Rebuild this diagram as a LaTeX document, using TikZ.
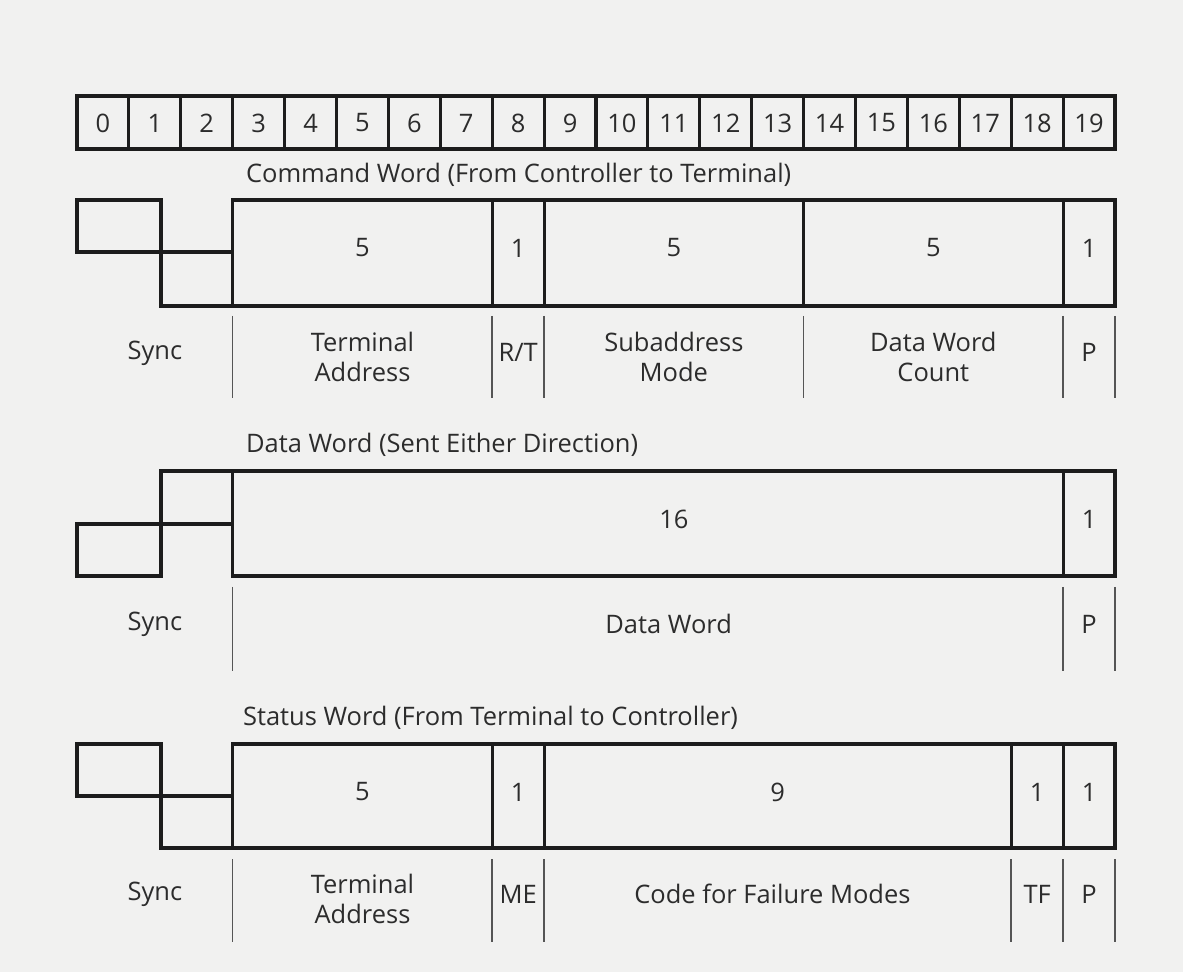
\documentclass[tikz,border=0pt]{standalone}
\usepackage{fontspec}
\setmainfont{Open Sans}
\usepackage{xcolor}
\usetikzlibrary{positioning}
\definecolor{wpaper}{HTML}{F1F1F0}
\definecolor{wink}{HTML}{1C1C1C}
\definecolor{wtext}{HTML}{2C2C2C}
\newcommand{\bitx}[1]{(77+51.9*(#1))}
\tikzset{
  fieldline/.style={draw=wink, line width=1.8pt, line join=miter},
  tickline/.style={draw=wink!75, line width=0.9pt},
  bitlabel/.style={text=wtext, font=\fontsize{14.5}{18}\selectfont, inner sep=0pt},
  fieldlabel/.style={text=wtext, font=\fontsize{14.5}{17}\selectfont,
                     align=center, inner sep=0pt},
  titlelabel/.style={text=wtext, font=\fontsize{14.5}{17}\selectfont,
                     anchor=west, inner sep=0pt},
}

\begin{document}
\begin{tikzpicture}[x=0.02cm, y=-0.02cm]

  %% ── Paper ──
  \fill[wpaper] (0,0) rectangle (1183,972);
  \useasboundingbox (0,0) rectangle (1183,972);

  %% ═══════════ Bit ruler ═══════════
  \foreach \k in {0,...,19}{
    \draw[fieldline] ({\bitx{\k}},96) rectangle ({\bitx{\k+1}},149);
    \node[bitlabel] (bit\k) at ({\bitx{\k+0.5}},123) {\k};
  }

  %% ═══════════ Command word ═══════════
  \node[titlelabel] (cmdtitle) at ({\bitx{3}+13},175)
    {Command Word (From Controller to Terminal)};

  %% Sync pulse (high, then low)
  \draw[fieldline] ({\bitx{0}},200) rectangle ({\bitx{0}+84},252);
  \draw[fieldline] ({\bitx{0}+84},252) rectangle ({\bitx{3}},306);
  %% Fields
  \draw[fieldline] ({\bitx{3}},200) rectangle ({\bitx{20}},306);
  \foreach \k in {8,9,14,19}
    \draw[fieldline] ({\bitx{\k}},200) -- ({\bitx{\k}},306);
  \foreach \a/\b/\n in {3/8/5, 8/9/1, 9/14/5, 14/19/5, 19/20/1}
    \node[bitlabel] (cmdn\a) at ({\bitx{(\a+\b)/2}},248) {\n};

  %% Field names
  \foreach \k in {3,8,9,14,19,20}
    \draw[tickline] ({\bitx{\k}},316) -- ({\bitx{\k}},398);
  \node[fieldlabel] (cmdsync) at ({\bitx{1.5}},353) {Sync};
  \node[fieldlabel] (cmdaddr) at ({\bitx{5.5}},357) {Terminal\\Address};
  \node[fieldlabel] (cmdrt)   at ({\bitx{8.5}},352) {R/T};
  \node[fieldlabel] (cmdsub)  at ({\bitx{11.5}},357) {Subaddress\\Mode};
  \node[fieldlabel] (cmdcnt)  at ({\bitx{16.5}},357) {Data Word\\Count};
  \node[fieldlabel] (cmdpar)  at ({\bitx{19.5}},352) {P};

  %% ═══════════ Data word ═══════════
  \node[titlelabel] (dattitle) at ({\bitx{3}+13},445)
    {Data Word (Sent Either Direction)};

  %% Sync pulse (low, then high)
  \draw[fieldline] ({\bitx{0}},524) rectangle ({\bitx{0}+84},576);
  \draw[fieldline] ({\bitx{0}+84},471) rectangle ({\bitx{3}},524);
  %% Fields
  \draw[fieldline] ({\bitx{3}},471) rectangle ({\bitx{20}},576);
  \draw[fieldline] ({\bitx{19}},471) -- ({\bitx{19}},576);
  \foreach \a/\b/\n in {3/20/16, 19/20/1}
    \node[bitlabel] (datn\a) at ({\bitx{(\a+\b)/2}},519) {\n};

  %% Field names
  \foreach \k in {3,19,20}
    \draw[tickline] ({\bitx{\k}},587) -- ({\bitx{\k}},671);
  \node[fieldlabel] (datsync) at ({\bitx{1.5}},624) {Sync};
  \node[fieldlabel] (datword) at ({\bitx{11.4}},624) {Data Word};
  \node[fieldlabel] (datpar)  at ({\bitx{19.5}},624) {P};

  %% ═══════════ Status word ═══════════
  \node[titlelabel] (statitle) at ({\bitx{3}+10},718)
    {Status Word (From Terminal to Controller)};

  %% Sync pulse (high, then low)
  \draw[fieldline] ({\bitx{0}},744) rectangle ({\bitx{0}+84},796);
  \draw[fieldline] ({\bitx{0}+84},796) rectangle ({\bitx{3}},848);
  %% Fields
  \draw[fieldline] ({\bitx{3}},744) rectangle ({\bitx{20}},848);
  \foreach \k in {8,9,18,19}
    \draw[fieldline] ({\bitx{\k}},744) -- ({\bitx{\k}},848);
  \foreach \a/\b/\n in {3/8/5, 8/9/1, 9/18/9, 18/19/1, 19/20/1}
    \node[bitlabel] (stan\a) at ({\bitx{(\a+\b)/2}},792) {\n};

  %% Field names
  \foreach \k in {3,8,9,18,19,20}
    \draw[tickline] ({\bitx{\k}},859) -- ({\bitx{\k}},942);
  \node[fieldlabel] (stasync) at ({\bitx{1.5}},894) {Sync};
  \node[fieldlabel] (staaddr) at ({\bitx{5.5}},899) {Terminal\\Address};
  \node[fieldlabel] (stame)   at ({\bitx{8.5}},894) {ME};
  \node[fieldlabel] (stacode) at ({\bitx{13.4}},894) {Code for Failure Modes};
  \node[fieldlabel] (statf)   at ({\bitx{18.5}},894) {TF};
  \node[fieldlabel] (stapar)  at ({\bitx{19.5}},894) {P};

\end{tikzpicture}
\end{document}
